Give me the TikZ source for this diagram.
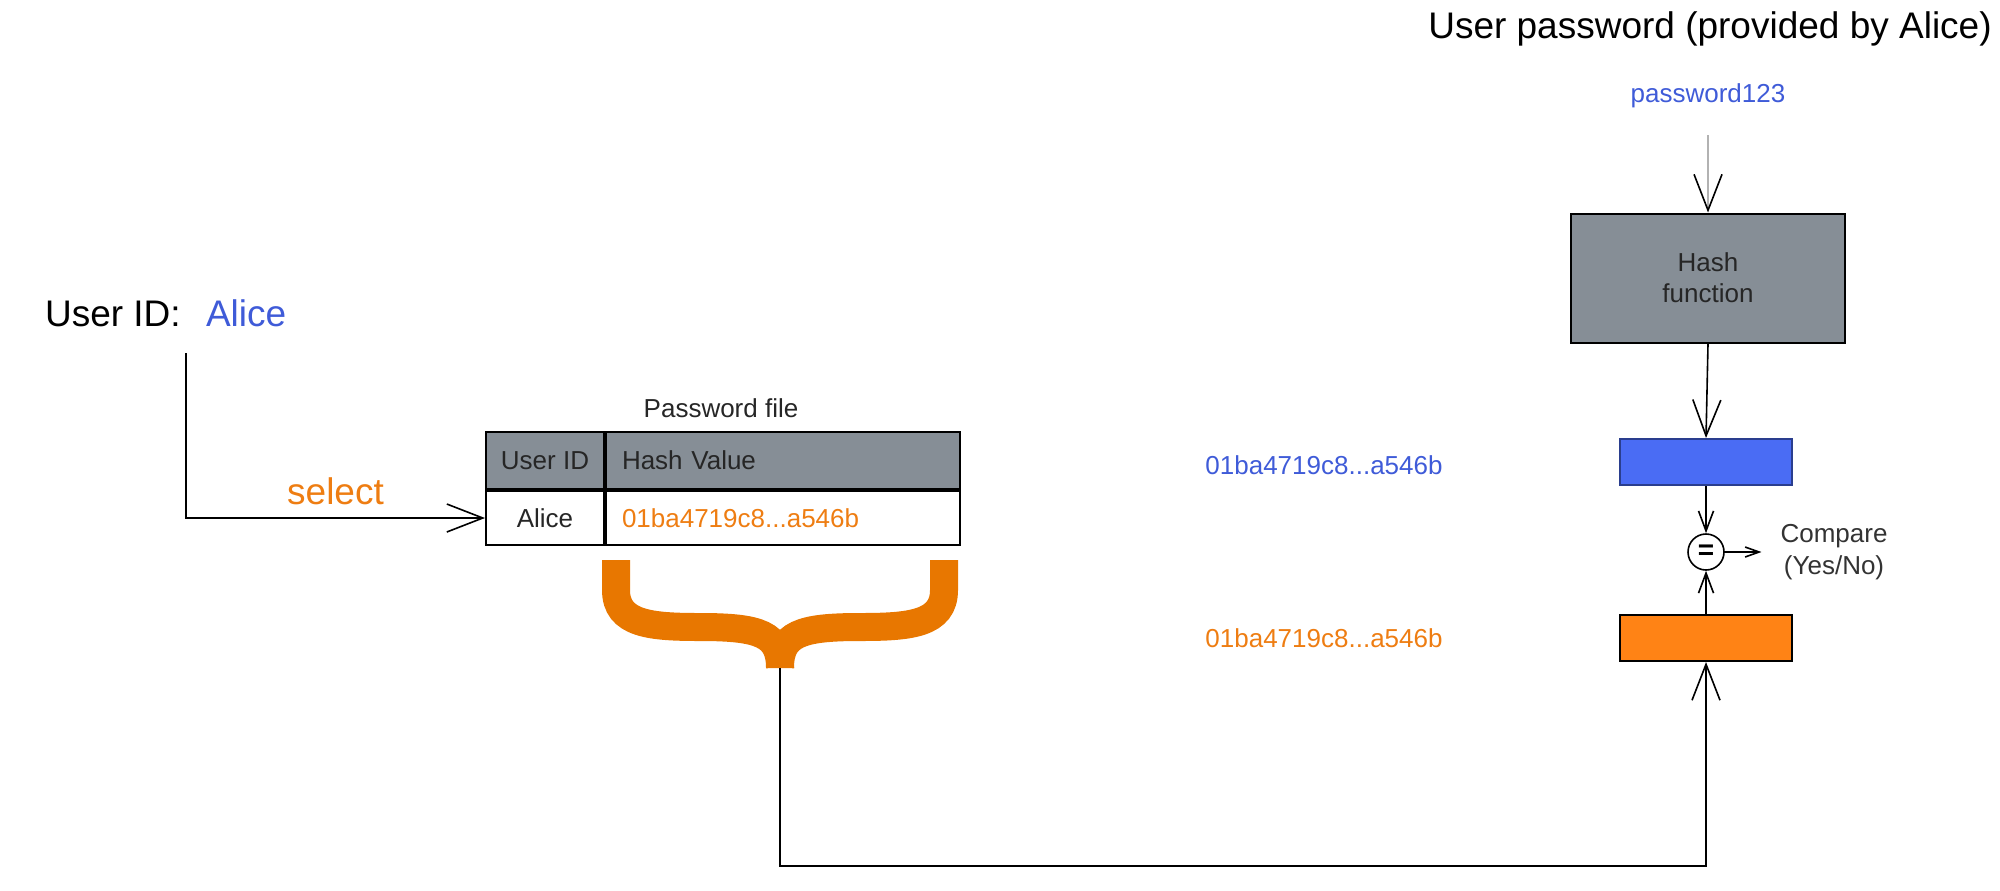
\documentclass[tikz,border=0pt]{standalone}
\usepackage{fontspec}
\setmainfont{Liberation Sans}
\usetikzlibrary{arrows.meta,positioning}
\definecolor{txtbleu}{HTML}{3F5BD8}
\definecolor{txtorange}{HTML}{EE7D12}
\definecolor{accol}{HTML}{E87700}
\definecolor{gris}{HTML}{868E96}
\definecolor{boitebleu}{HTML}{4A6CF4}
\definecolor{bordbleu}{HTML}{2A3E8E}
\definecolor{boiteorange}{HTML}{FF8315}
\begin{document}
\begin{tikzpicture}[x=0.5pt,y=-0.5pt,
    grand/.style={font=\fontsize{18.5}{22}\selectfont},
    petit/.style={font=\fontsize{13}{15.6}\selectfont},
    cell/.style={draw,line width=1pt,petit,inner sep=0pt,minimum height=28.5pt,text=black!85},
    boite/.style={draw,line width=1pt,minimum width=86pt,minimum height=23pt},
    fleche/.style={-{Straight Barb[length=18pt,width=14pt,color=black]},line width=0.8pt},
    fleche2/.style={-{Straight Barb[length=10pt,width=7.5pt]},line width=0.8pt},
    fleche3/.style={-{Straight Barb[length=7pt,width=5pt]},line width=0.8pt},
    accolade/.style={draw=accol,line width=14pt}]
\useasboundingbox (0,0) rectangle (2000,890);
% identifiant
\node[grand,anchor=base west] (uid) at (38,326) {User ID:};
\node[grand,anchor=base west,text=txtbleu] (nom) at (199,326) {Alice};
\coordinate (depart) at (186,353);
% fichier des mots de passe
\node[petit,text=black!85] (titre) at (721,408) {Password file};
\node[cell,fill=gris,minimum width=59pt,anchor=north west] (h1) at (485,431) {User ID};
\node[cell,fill=gris,text width=161pt,inner xsep=8pt,align=left,right=0pt of h1] (h2) {Hash Value};
\node[cell,minimum width=59pt,minimum height=27pt,below=0pt of h1] (c1) {Alice};
\node[cell,text width=161pt,inner xsep=8pt,align=left,minimum height=27pt,text=txtorange,below=0pt of h2] (c2) {01ba4719c8...a546b};
\draw[fleche] (depart) |- node[pos=0.75,above=3pt,grand,text=txtorange] (sel) {select} (c1.west);
% accolade
\draw[accolade] (616,560) -- (616,590) .. controls (616,624) and (650,627) .. (700,627) .. controls (760,627) and (780,634) .. (780,668);
\draw[accolade] (944,560) -- (944,590) .. controls (944,624) and (910,627) .. (860,627) .. controls (800,627) and (780,634) .. (780,668);
\coordinate (pointe) at (780,668);
% partie droite
\node[grand] (ttl) at (1710,29) {User password (provided by Alice)};
\node[petit,text=txtbleu] (pwd) at (1708,96) {password123};
\node[boite,fill=gris,minimum width=137pt,minimum height=64.5pt,petit,align=center,text=black!85] (hash) at (1708,278) {Hash\\function};
\node[boite,fill=boitebleu,draw=bordbleu] (hb) at (1706,462) {};
\node[draw,circle,line width=0.8pt,minimum size=18pt,inner sep=0pt,font=\bfseries\fontsize{14}{14}\selectfont] (eq) at (1706,552) {=};
\node[boite,fill=boiteorange] (ho) at (1706,638) {};
\node[petit,text=txtbleu] (vb) at (1324,465) {01ba4719c8...a546b};
\node[petit,text=txtorange] (vo) at (1324,638) {01ba4719c8...a546b};
\node[petit,align=center,text=black!80] (cmp) at (1834,552) {Compare\\(Yes/No)};
\draw[fleche,draw=gray!60] ([yshift=-10pt]pwd.south) -- (hash.north);
\draw[fleche] (hash.south) -- (hb.north);
\draw[fleche2] (hb.south) -- (eq.north);
\draw[fleche2] (ho.north) -- (eq.south);
\draw[fleche3] (eq.east) -- ([xshift=-6pt]cmp.west);
\draw[fleche] (pointe) -- ++(0,198) -| (ho.south);
\end{tikzpicture}
\end{document}
